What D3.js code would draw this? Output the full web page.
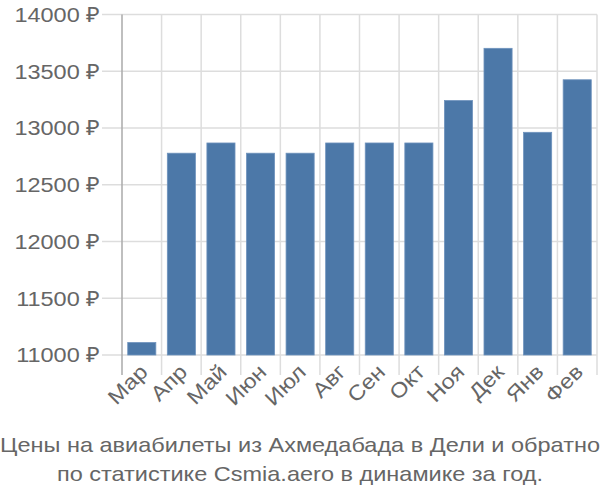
<!DOCTYPE html>
<html><head><meta charset="utf-8">
<script src="https://cdn.jsdelivr.net/npm/d3@7"></script>
<style>body{margin:0;background:#fff}</style>
</head><body>
<svg id="c" width="600" height="500"></svg>
<script>
const months = ["Мар","Апр","Май","Июн","Июл","Авг","Сен","Окт","Ноя","Дек","Янв","Фев"];
const prices = [11110, 12778, 12868, 12778, 12778, 12868, 12868, 12868, 13242, 13702, 12962, 13425];
const yTicks = [11000, 11500, 12000, 12500, 13000, 13500, 14000];
const titleLines = ["Цены на авиабилеты из Ахмедабада в Дели и обратно", "по статистике Csmia.aero в динамике за год."];

(function () {
const svg = d3.select("#c");
const pL = 122, pR = 597, pT = 14.5, pB = 355;
const font = "Liberation Sans, Arial, sans-serif";
const fs = 21, sx = 1.12;

const x = d3.scaleBand().domain(months).range([pL, pR]).paddingInner(0.29).paddingOuter(0.145);
const y = d3.scaleLinear().domain([11000, 14000]).range([pB, pT]);
const step = x.step();

svg.append("g").selectAll("line").data(yTicks).join("line")
  .attr("x1", 102).attr("x2", pR).attr("y1", d => y(d)).attr("y2", d => y(d))
  .attr("stroke", "#dddddd").attr("stroke-width", 1.5);
const bounds = d3.range(months.length + 1).map(i => pL + i * step);
svg.append("g").selectAll("line").data(bounds.slice(1)).join("line")
  .attr("x1", d => d).attr("x2", d => d).attr("y1", pT).attr("y2", pB + 20)
  .attr("stroke", "#dddddd").attr("stroke-width", 1.5);
svg.append("line").attr("x1", pL).attr("x2", pL).attr("y1", pT).attr("y2", pB + 20)
  .attr("stroke", "#aaaaaa").attr("stroke-width", 1.5);

svg.append("g").selectAll("rect").data(prices).join("rect")
  .attr("x", (d, i) => x(months[i]))
  .attr("width", x.bandwidth())
  .attr("y", d => y(d))
  .attr("height", d => y(11000) - y(d))
  .attr("fill", "#4c78a8")
  .attr("stroke", "#6f93bd").attr("stroke-width", 0.8);

svg.append("g").selectAll("text").data(yTicks).join("text")
  .attr("transform", d => `translate(100,${y(d)}) scale(${sx},1)`)
  .attr("dy", "0.35em")
  .attr("text-anchor", "end").attr("font-family", font).attr("font-size", fs)
  .attr("fill", "#666").text(d => d + " ₽");

svg.append("g").selectAll("text").data(months).join("text")
  .attr("transform", d => `translate(${x(d) + x.bandwidth() / 2 + 2},${pB + 13}) rotate(-45) scale(${sx},1)`)
  .attr("text-anchor", "end").attr("dy", "0.35em")
  .attr("font-family", font).attr("font-size", fs).attr("fill", "#666").text(d => d);

svg.append("g").selectAll("text").data(titleLines).join("text")
  .attr("transform", (d, i) => `translate(300,${452 + i * 29}) scale(${sx},1)`)
  .attr("text-anchor", "middle").attr("font-family", font).attr("font-size", fs)
  .attr("fill", "#666").text(d => d);
})();
</script>
</body></html>
